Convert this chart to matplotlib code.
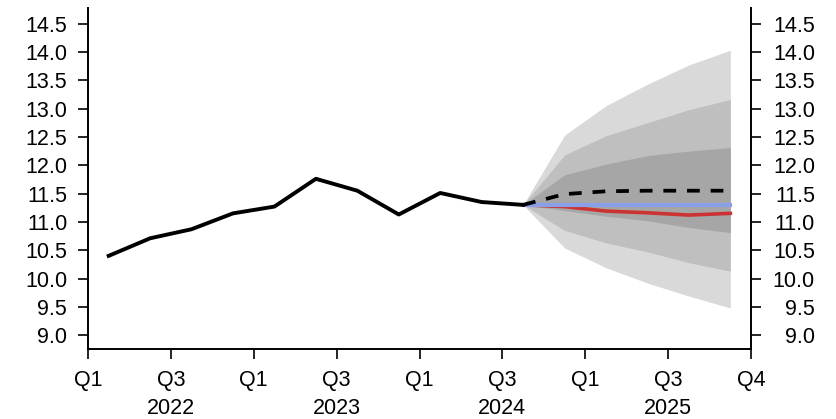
import matplotlib
matplotlib.use("Agg")
import matplotlib.pyplot as plt
import numpy as np
from matplotlib.transforms import ScaledTranslation

plt.rcParams['font.family'] = ['Liberation Sans', 'DejaVu Sans']

# Quarterly periods (first quarter on the axis is 2022Q1)
start_year = 2022
hist_periods = ['2022Q1', '2022Q2', '2022Q3', '2022Q4', '2023Q1', '2023Q2',
                '2023Q3', '2023Q4', '2024Q1', '2024Q2', '2024Q3']
hist_values = [10.40, 10.71, 10.87, 11.15, 11.27, 11.76,
               11.55, 11.13, 11.51, 11.35, 11.30]

fc_periods = ['2024Q3', '2024Q4', '2025Q1', '2025Q2', '2025Q3', '2025Q4']
central = [11.30, 11.49, 11.54, 11.55, 11.55, 11.55]
blue_path = [11.30, 11.30, 11.30, 11.30, 11.30, 11.30]
red_path = [11.30, 11.27, 11.19, 11.16, 11.12, 11.15]

# Fan bands (lower, upper) from widest to narrowest
outer_lo = [11.30, 10.54, 10.19, 9.92, 9.69, 9.48]
outer_hi = [11.30, 12.53, 13.05, 13.43, 13.77, 14.03]
mid_lo = [11.30, 10.85, 10.63, 10.47, 10.28, 10.13]
mid_hi = [11.30, 12.18, 12.52, 12.75, 12.98, 13.16]
inner_lo = [11.30, 11.20, 11.10, 11.02, 10.90, 10.81]
inner_hi = [11.30, 11.83, 12.02, 12.17, 12.25, 12.31]

y_ticks = [9.0, 9.5, 10.0, 10.5, 11.0, 11.5, 12.0, 12.5, 13.0, 13.5, 14.0, 14.5]
x_tick_labels = ['Q1', 'Q3', 'Q1', 'Q3', 'Q1', 'Q3', 'Q1', 'Q3', 'Q4']
year_labels = ['2022', '2023', '2024', '2025']


def qpos(period):
    """Mid-quarter position, counted in quarters from the axis start."""
    year, q = int(period[:4]), int(period[-1])
    return (year - start_year) * 4 + (q - 1) + 0.5


hx = np.array([qpos(p) for p in hist_periods])
fx = np.array([qpos(p) for p in fc_periods])

fig = plt.figure(figsize=(8.37, 4.19), dpi=100)
ax = fig.add_axes([0.1051, 0.1663, 0.7922, 0.8139])

ax.fill_between(fx, outer_lo, outer_hi, color='#d9d9d9', lw=0, zorder=1)
ax.fill_between(fx, mid_lo, mid_hi, color='#bfbfbf', lw=0, zorder=2)
ax.fill_between(fx, inner_lo, inner_hi, color='#a6a6a6', lw=0, zorder=3)

ax.plot(fx, red_path, color='#cc3333', lw=2.6, zorder=4)
ax.plot(fx, blue_path, color='#8a9fe8', lw=3.0, zorder=5)
ax.plot(fx, central, color='black', lw=2.7, dashes=(3.4, 2.9), zorder=6)
ax.plot(hx, hist_values, color='black', lw=2.8, zorder=7)

ax.set_xlim(0, 16)
ax.set_ylim(8.75, 14.77)

ax.set_xticks(np.arange(0, 17, 2))
ax.set_xticklabels(x_tick_labels)
ax.set_yticks(y_ticks)
ax.set_yticklabels([f'{v:.1f}' for v in y_ticks])

ax.spines['top'].set_visible(False)
for side in ['left', 'right', 'bottom']:
    ax.spines[side].set_linewidth(1.4)

ax.tick_params(axis='both', direction='out', length=7, width=1.2,
               labelsize=15.5, colors='black', pad=8)
ax.tick_params(axis='y', right=True, labelright=True)

# right-hand labels are right-aligned, sitting just past the ticks
offset = ScaledTranslation(31 / 72, 0, fig.dpi_scale_trans)
for tick in ax.yaxis.get_major_ticks():
    tick.label2.set_horizontalalignment('right')
    tick.label2.set_transform(tick.label2.get_transform() + offset)

for i, yl in enumerate(year_labels):
    ax.annotate(yl, xy=(2 + 4 * i, 0), xycoords=('data', 'axes fraction'),
                xytext=(0, -35), textcoords='offset points',
                ha='center', va='top', fontsize=15.5)

fig.savefig('out.png', dpi=100)
